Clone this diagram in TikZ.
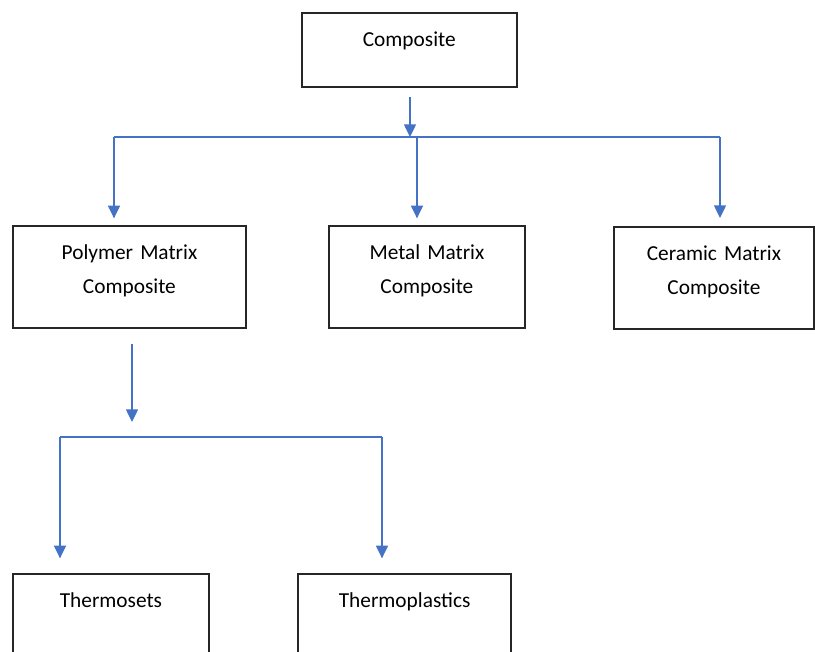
\documentclass[tikz,border=0pt]{standalone}
\usepackage{fontspec}
\setmainfont{Carlito}
\usepackage{xcolor}
\usepackage{tikz}
\usetikzlibrary{arrows.meta}
\definecolor{linkblue}{HTML}{4472C4}

\tikzset{
  blk/.style={draw=black!85, line width=1.4pt, inner sep=0pt, align=center,
    font=\fontsize{16pt}{26pt}\selectfont, text height=25pt, anchor=north west},
  low/.style={execute at end node={\rule[-#1]{0pt}{#1}}},
  link/.style={linkblue, line width=1pt},
  arr/.style={link, -{Triangle[width=9pt,length=9.5pt]}}
}

\begin{document}
\begin{tikzpicture}[x=0.75pt, y=-0.75pt]
          \useasboundingbox (0,0) rectangle (815,651);
          \clip (0,0) rectangle (815,651);
          % boxes
          \node[blk, text width=161pt, low=30.5pt] at (301,12) (comp) {Composite};
          \node[blk, text width=174.75pt, low=25.5pt] at (12,225) (pmc) {Polymer Matrix\\Composite};
          \node[blk, text width=147pt, low=25.5pt] at (328,225) (mmc) {Metal Matrix\\Composite};
          \node[blk, text width=150pt, low=25.5pt] at (613,226) (cmc) {Ceramic Matrix\\Composite};
          \node[blk, text width=147pt, low=50pt] at (12,573) (tset) {Thermosets};
          \node[blk, text width=160pt, low=50pt] at (297,573) (tplast) {Thermoplastics};
          % first level
          \coordinate (j1) at (410,137);
          \coordinate (b1l) at (114,137);
          \coordinate (b1m) at (417,137);
          \coordinate (b1r) at (720,137);
          \draw[arr, shorten <=6.75pt] (comp.south -| j1) -- (j1);
          \draw[link] (b1l) -- (b1r);
          \draw[arr, shorten >=5pt] (b1l) -- (pmc.north -| b1l);
          \draw[arr, shorten >=5pt] (b1m) -- (mmc.north -| b1m);
          \draw[arr, shorten >=6pt] (b1r) -- (cmc.north -| b1r);
          % second level
          \coordinate (j2) at (132,422);
          \coordinate (b2l) at (60,437);
          \coordinate (b2r) at (382,437);
          \draw[arr, shorten <=11pt] (pmc.south -| j2) -- (j2);
          \draw[link] (b2l) -- (b2r);
          \draw[arr, shorten >=11pt] (b2l) -- (tset.north -| b2l);
          \draw[arr, shorten >=11pt] (b2r) -- (tplast.north -| b2r);
        \end{tikzpicture}
\end{document}
